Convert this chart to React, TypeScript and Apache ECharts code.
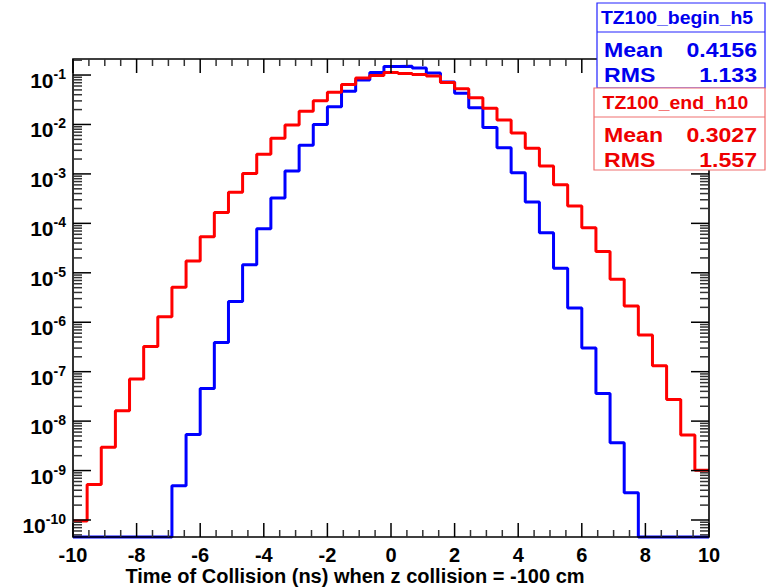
import React, { useEffect, useRef } from 'react';
import * as echarts from 'echarts';

// ---- axis ranges ----
const X_MIN = -10;
const X_MAX = 10;
const X_INTERVAL = 2;
const X_MINOR_STEP = 0.5;
const N_BINS = 45;
const Y_MIN = 4.53e-11;
const Y_MAX = 0.211;

// ---- histogram contents (45 bins, -10 .. 10) ----
const blueValues = [
  0, 0, 0, 0, 0, 0, 0,
  4.9e-10, 5.37e-9, 4.57e-8, 3.89e-7, 2.63e-6, 1.45e-5, 7.76e-5, 3.24e-4,
  1.15e-3, 3.8e-3, 1.0e-2, 2.29e-2, 4.68e-2, 7.94e-2, 0.112, 0.148,
  0.151, 0.138, 0.11, 0.0724, 0.0427, 0.0219, 8.71e-3, 3.39e-3,
  1.05e-3, 2.69e-4, 6.46e-5, 1.23e-5, 1.95e-6, 3.02e-7, 3.63e-8, 3.63e-9,
  3.55e-10, 0, 0, 0, 0, 0,
];
const redValues = [
  9.55e-11, 5.25e-10, 2.95e-9, 1.62e-8, 7.08e-8, 3.24e-7, 1.29e-6, 5.13e-6,
  1.74e-5, 5.37e-5, 1.66e-4, 4.27e-4, 1.02e-3, 2.51e-3, 5.25e-3, 9.77e-3,
  1.86e-2, 3.02e-2, 4.47e-2, 6.46e-2, 8.71e-2, 9.77e-2, 0.112, 0.107,
  0.102, 0.0955, 0.0708, 0.0525, 0.0347, 0.0214, 0.0123, 6.76e-3,
  3.31e-3, 1.45e-3, 6.03e-4, 2.24e-4, 8.13e-5, 2.69e-5, 7.41e-6, 2.14e-6,
  5.5e-7, 1.32e-7, 2.75e-8, 5.25e-9, 1.02e-9,
];

// ---- tick definitions ----
const xMajorTicks = [-10, -8, -6, -4, -2, 0, 2, 4, 6, 8, 10];
const majorExponents = [-10, -9, -8, -7, -6, -5, -4, -3, -2, -1];
const minorDecades = [-11, -10, -9, -8, -7, -6, -5, -4, -3, -2, -1];
const minorMultipliers = [2, 3, 4, 5, 6, 7, 8, 9];

// ---- texts ----
const xTitle = 'Time of Collision (ns) when z collision = -100 cm';
const blueStats = { name: 'TZ100_begin_h5', mean: '0.4156', rms: '1.133' };
const redStats = { name: 'TZ100_end_h10', mean: '0.3027', rms: '1.557' };

const BLUE = '#0000ff';
const RED = '#ff0000';
const FONT = '"Liberation Sans", Arial, Helvetica, sans-serif';

function stepData(values: number[]) {
  const w = (X_MAX - X_MIN) / N_BINS;
  const pts: number[][] = values.map((v, i) => [X_MIN + i * w, v > 0 ? v : Y_MIN]);
  const last = values[values.length - 1];
  pts.push([X_MAX, last > 0 ? last : Y_MIN]);
  return pts;
}

function statsBox(s: { name: string; mean: string; rms: string }, color: string, border: string, x: number, y: number, w: number, h: number, divY: number) {
  const big = { font: `bold 21px ${FONT}`, fill: color };
  return [
    { type: 'rect', z: 300, shape: { x, y, width: w, height: h }, style: { fill: '#fff', stroke: border, lineWidth: 1.2 } },
    { type: 'line', z: 301, shape: { x1: x, y1: divY, x2: x + w, y2: divY }, style: { stroke: border, lineWidth: 1.2 } },
    { type: 'text', z: 301, x: x + w / 2 - 4, y: (y + divY) / 2, scaleX: 1.08, style: { text: s.name, font: `bold 18px ${FONT}`, fill: color, align: 'center', verticalAlign: 'middle' } },
    { type: 'text', z: 301, x: 604, y: divY + 18, scaleX: 1.1, style: { ...big, text: 'Mean', align: 'left', verticalAlign: 'middle' } },
    { type: 'text', z: 301, x: 757, y: divY + 18, scaleX: 1.1, style: { ...big, text: s.mean, align: 'right', verticalAlign: 'middle' } },
    { type: 'text', z: 301, x: 604, y: divY + 43, scaleX: 1.1, style: { ...big, text: 'RMS', align: 'left', verticalAlign: 'middle' } },
    { type: 'text', z: 301, x: 757, y: divY + 43, scaleX: 1.1, style: { ...big, text: s.rms, align: 'right', verticalAlign: 'middle' } },
  ];
}

export default function App() {
  const ref = useRef<HTMLDivElement>(null);
  useEffect(() => {
    if (!ref.current) return;
    const chart = echarts.init(ref.current, null, { renderer: 'svg' });
    chart.setOption({
      animation: false,
      backgroundColor: '#fff',
      grid: { left: 73, top: 59, right: 57, bottom: 51, show: false },
      xAxis: {
        type: 'value',
        min: X_MIN,
        max: X_MAX,
        interval: X_INTERVAL,
        position: 'bottom',
        splitLine: { show: false },
        axisLine: { show: false },
        axisTick: { show: false },
        minorTick: { show: false },
        axisLabel: { show: true, fontSize: 20, fontWeight: 'bold', color: '#000', fontFamily: FONT, margin: 8 },
      },
      yAxis: {
        type: 'log',
        logBase: 10,
        min: Y_MIN,
        max: Y_MAX,
        splitLine: { show: false },
        axisLine: { show: false },
        axisTick: { show: false },
        axisLabel: { show: false },
        minorTick: { show: false },
      },
      series: [
        {
          type: 'line',
          name: blueStats.name,
          data: stepData(blueValues),
          step: 'end',
          showSymbol: false,
          symbol: 'none',
          clip: false,
          z: 3,
          lineStyle: { color: BLUE, width: 3 },
        },
        {
          type: 'line',
          name: redStats.name,
          data: stepData(redValues),
          step: 'end',
          showSymbol: false,
          symbol: 'none',
          clip: false,
          z: 4,
          lineStyle: { color: RED, width: 3 },
        },
      ],
    });

    // frame, ticks and log labels, positioned through the chart's own scales
    const px = (x: number, y: number) => chart.convertToPixel({ gridIndex: 0 }, [x, y]) as number[];
    const g: any[] = [];
    const p00 = px(X_MIN, Y_MIN);
    const p11 = px(X_MAX, Y_MAX);
    const fx0 = Math.round(p00[0]);
    const fx1 = Math.round(p11[0]);
    const fy0 = Math.round(p00[1]);
    const fy1 = Math.round(p11[1]);
    g.push({ type: 'polygon', z: 200, shape: { points: [[fx0, fy1], [fx1, fy1], [fx1, fy0], [fx0, fy0]] }, style: { fill: 'none', stroke: '#000', lineWidth: 1.6 } });

    const hTick = (v: number, major: boolean) => {
      const p = px(X_MIN, v);
      const len = major ? 18 : 9;
      const stroke = major ? '#000' : '#333';
      const y = p[1];
      g.push({ type: 'line', z: 200, shape: { x1: fx0, y1: y, x2: fx0 + len, y2: y }, style: { stroke, lineWidth: 1.5 } });
      g.push({ type: 'line', z: 200, shape: { x1: fx1, y1: y, x2: fx1 - len, y2: y }, style: { stroke, lineWidth: 1.5 } });
    };
    majorExponents.forEach((e) => {
      const v = Math.pow(10, e);
      hTick(v, true);
      const p = px(X_MIN, v);
      g.push({
        type: 'text',
        z: 200,
        style: {
          text: `{b|10}{s|${e}}`,
          x: p[0] - 7,
          y: p[1] + 4,
          align: 'right',
          verticalAlign: 'middle',
          rich: {
            b: { fontSize: 21, fontWeight: 'bold', fontFamily: FONT, fill: '#000', lineHeight: 24, verticalAlign: 'bottom' },
            s: { fontSize: 14, fontWeight: 'bold', fontFamily: FONT, fill: '#000', lineHeight: 14, verticalAlign: 'top' },
          },
        },
      });
    });
    minorDecades.forEach((e) =>
      minorMultipliers.forEach((m) => {
        const v = m * Math.pow(10, e);
        if (v > Y_MIN && v < Y_MAX) hTick(v, false);
      })
    );
    const vTick = (x: number, major: boolean) => {
      const p = px(x, Y_MIN);
      const len = major ? 14 : 7;
      const stroke = major ? '#000' : '#333';
      const xx = p[0];
      g.push({ type: 'line', z: 200, shape: { x1: xx, y1: fy0, x2: xx, y2: fy0 - len }, style: { stroke, lineWidth: 1.5 } });
      g.push({ type: 'line', z: 200, shape: { x1: xx, y1: fy1, x2: xx, y2: fy1 + len }, style: { stroke, lineWidth: 1.5 } });
    };
    for (let i = 0; i < xMajorTicks.length; i++) {
      vTick(xMajorTicks[i], true);
      if (i < xMajorTicks.length - 1) {
        for (let x = xMajorTicks[i] + X_MINOR_STEP; x < xMajorTicks[i + 1] - 1e-9; x += X_MINOR_STEP) vTick(x, false);
      }
    }

    chart.setOption({
      graphic: {
        elements: [
          ...g,
          { type: 'text', z: 250, x: 355, y: 576, style: { text: xTitle, font: `bold 20px ${FONT}`, fill: '#000', align: 'center', verticalAlign: 'middle' } },
          ...statsBox(blueStats, '#0000ee', '#2222ff', 597, 3, 168, 85, 32),
          ...statsBox(redStats, '#ee0000', '#f07070', 594, 88, 171, 82, 117),
        ],
      },
    });
    return () => chart.dispose();
  }, []);
  return <div ref={ref} style={{ position: 'fixed', left: 0, top: 0, width: 766, height: 588 }} />;
}
